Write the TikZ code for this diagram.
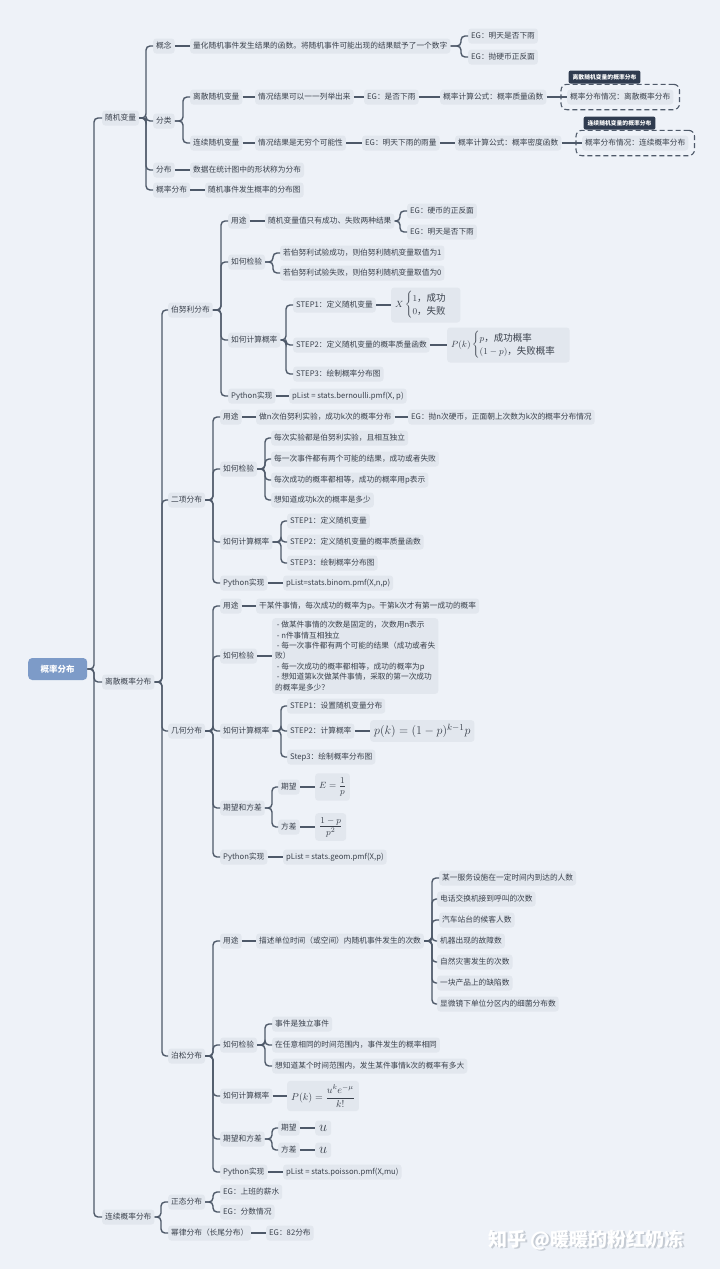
\documentclass[tikz,border=0pt]{standalone}
\usepackage{amsmath}
\usepackage{fontspec}
\setmainfont{Noto Sans CJK SC}
\usetikzlibrary{positioning,fit}

\definecolor{pagebg}{HTML}{EEF2F8}
\definecolor{leaffill}{HTML}{E2E7EE}
\definecolor{inkgray}{HTML}{3A414C}
\definecolor{linegray}{HTML}{4E5969}
\definecolor{rootblue}{HTML}{7D9BC8}
\definecolor{navy}{HTML}{2F3B4F}
\definecolor{wmshade}{HTML}{C5CBD3}

\begin{document}
\begin{tikzpicture}[x=1pt, y=-1pt,
    leaf/.style={anchor=west, fill=leaffill, rounded corners=3pt, text=inkgray,
                 inner xsep=3pt, inner ysep=2pt, minimum height=15pt,
                 font=\fontsize{7.7}{9}\selectfont},
    mathleaf/.style={leaf, inner xsep=4pt, inner ysep=4pt, font=\fontsize{9.5}{11}\selectfont},
    rootbox/.style={anchor=west, fill=rootblue, rounded corners=4pt, text=white,
                 minimum width=59pt, minimum height=22pt, font=\fontsize{8.5}{10}\selectfont\bfseries},
    tagbox/.style={anchor=south west, fill=navy, text=white, rounded corners=2pt,
                 inner xsep=4pt, inner ysep=0pt, minimum height=13pt,
                 font=\fontsize{5.8}{7}\selectfont\bfseries},
    dashframe/.style={draw=linegray, dash pattern=on 5pt off 3pt, line width=1.1pt,
                 rounded corners=6pt, inner xsep=6pt, inner ysep=5pt},
    conn/.style={draw=linegray, line width=1.4pt, rounded corners=4pt},
    wmtext/.style={anchor=west, font=\fontsize{19}{22}\selectfont\bfseries}
]
    \fill[pagebg] (0,0) rectangle (720,1269);
    \useasboundingbox (0,0) rectangle (720,1269);

    \node[rootbox] (root) at (28,669) {概率分布};
    \node[leaf] (rv) at (102,118) {随机变量};
    \node[leaf] (disc) at (102,682) {离散概率分布};
    \node[leaf] (cont) at (102,1217) {连续概率分布};

    % random variable
    \node[leaf] (rvdef) at (153,46) {概念};
    \node[leaf] (rvcls) at (153,121) {分类};
    \node[leaf] (rvdist) at (153,170) {分布};
    \node[leaf] (rvprob) at (153,190) {概率分布};
    \node[leaf] (deftext) at (190,46) {量化随机事件发生结果的函数。将随机事件可能出现的结果赋予了一个数字};
    \node[leaf] (defeg1) at (468,36) {EG：明天是否下雨};
    \node[leaf] (defeg2) at (468,57) {EG：抛硬币正反面};
    \node[leaf] (dvar) at (190,97) {离散随机变量};
    \node[leaf] (cvar) at (190,143) {连续随机变量};
    \node[leaf] (dvarcase) at (255,97) {情况结果可以一一列举出来};
    \node[leaf] (dvareg) at (364,97) {EG：是否下雨};
    \node[leaf] (dvarpmf) at (440,97) {概率计算公式：概率质量函数};
    \node[leaf] (dvarkind) at (567,97) {概率分布情况：离散概率分布};
    \node[dashframe, fit=(dvarkind)] (dvarframe) {};
    \node[tagbox] (dvartag) at ([xshift=8pt]dvarframe.north west) {离散随机变量的概率分布};
    \node[leaf] (cvarcase) at (255,143) {情况结果是无穷个可能性};
    \node[leaf] (cvareg) at (362,143) {EG：明天下雨的雨量};
    \node[leaf] (cvarpdf) at (455,143) {概率计算公式：概率密度函数};
    \node[leaf] (cvarkind) at (582,143) {概率分布情况：连续概率分布};
    \node[dashframe, fit=(cvarkind)] (cvarframe) {};
    \node[tagbox] (cvartag) at ([xshift=8pt]cvarframe.north west) {连续随机变量的概率分布};
    \node[leaf] (distdef) at (190,170) {数据在统计图中的形状称为分布};
    \node[leaf] (probdef) at (205,190) {随机事件发生概率的分布图};

    % discrete distributions
    \node[leaf] (bern) at (168,310) {伯努利分布};
    \node[leaf] (binom) at (168,500) {二项分布};
    \node[leaf] (geom) at (168,731) {几何分布};
    \node[leaf] (pois) at (168,1056) {泊松分布};

    \node[leaf] (bUse) at (228,221) {用途};
    \node[leaf] (bCheck) at (228,262) {如何检验};
    \node[leaf] (bCalc) at (228,340) {如何计算概率};
    \node[leaf] (bPy) at (228,396) {Python实现};
    \node[leaf] (bUseText) at (265,221) {随机变量值只有成功、失败两种结果};
    \node[leaf] (bUseEg1) at (407,211) {EG：硬币的正反面};
    \node[leaf] (bUseEg2) at (407,232) {EG：明天是否下雨};
    \node[leaf] (bCheck1) at (280,253) {若伯努利试验成功，则伯努利随机变量取值为1};
    \node[leaf] (bCheck2) at (280,273) {若伯努利试验失败，则伯努利随机变量取值为0};
    \node[leaf] (bStep1) at (293,305) {STEP1：定义随机变量};
    \node[mathleaf] (bStep1f) at (391,305) {$X\begin{cases}1\text{，成功}\\0\text{，失败}\end{cases}$};
    \node[leaf] (bStep2) at (293,345) {STEP2：定义随机变量的概率质量函数};
    \node[mathleaf] (bStep2f) at (447,345) {$P(k)\begin{cases}p\text{，成功概率}\\(1-p)\text{，失败概率}\end{cases}$};
    \node[leaf] (bStep3) at (293,374) {STEP3：绘制概率分布图};
    \node[leaf] (bPyCode) at (289,396) {pList = stats.bernoulli.pmf(X, p)};

    \node[leaf] (nUse) at (220,417) {用途};
    \node[leaf] (nCheck) at (220,469) {如何检验};
    \node[leaf] (nCalc) at (220,542) {如何计算概率};
    \node[leaf] (nPy) at (220,583) {Python实现};
    \node[leaf] (nUseText) at (256,417) {做n次伯努利实验，成功k次的概率分布};
    \node[leaf] (nUseEg) at (408,417) {EG：抛n次硬币，正面朝上次数为k次的概率分布情况};
    \node[leaf] (nCheck1) at (271,438) {每次实验都是伯努利实验，且相互独立};
    \node[leaf] (nCheck2) at (271,459) {每一次事件都有两个可能的结果，成功或者失败};
    \node[leaf] (nCheck3) at (271,480) {每次成功的概率都相等，成功的概率用p表示};
    \node[leaf] (nCheck4) at (271,500) {想知道成功k次的概率是多少};
    \node[leaf] (nStep1) at (287,521) {STEP1：定义随机变量};
    \node[leaf] (nStep2) at (287,542) {STEP2：定义随机变量的概率质量函数};
    \node[leaf] (nStep3) at (287,563) {STEP3：绘制概率分布图};
    \node[leaf] (nPyCode) at (283,583) {pList=stats.binom.pmf(X,n,p)};

    \node[leaf] (gUse) at (220,606) {用途};
    \node[leaf] (gCheck) at (220,656) {如何检验};
    \node[leaf] (gCalc) at (220,731) {如何计算概率};
    \node[leaf] (gMoment) at (220,808) {期望和方差};
    \node[leaf] (gPy) at (220,857) {Python实现};
    \node[leaf] (gUseText) at (256,606) {干某件事情，每次成功的概率为p。干第k次才有第一成功的概率};
    \node[leaf, align=left, inner ysep=3pt, font=\fontsize{7.7}{10.4}\selectfont] (gCheckText) at (272,656)
        {~- 做某件事情的次数是固定的，次数用n表示\\~- n件事情互相独立\\~- 每一次事件都有两个可能的结果（成功或者失\\败）\\~- 每一次成功的概率都相等，成功的概率为p\\~- 想知道第k次做某件事情，采取的第一次成功\\的概率是多少？};
    \node[leaf] (gStep1) at (287,706) {STEP1：设置随机变量分布};
    \node[leaf] (gStep2) at (287,731) {STEP2：计算概率};
    \node[mathleaf, font=\fontsize{12.5}{14}\selectfont] (gStep2f) at (370,731) {$p(k)=(1-p)^{k-1}p$};
    \node[leaf] (gStep3) at (287,757) {Step3：绘制概率分布图};
    \node[leaf] (gMean) at (278,787) {期望};
    \node[mathleaf] (gMeanf) at (315,787) {$E=\dfrac{1}{p}$};
    \node[leaf] (gVar) at (278,827) {方差};
    \node[mathleaf] (gVarf) at (315,827) {$\dfrac{1-p}{p^2}$};
    \node[leaf] (gPyCode) at (283,857) {pList = stats.geom.pmf(X,p)};

    \node[leaf] (pUse) at (220,941) {用途};
    \node[leaf] (pCheck) at (220,1045) {如何检验};
    \node[leaf] (pCalc) at (220,1096) {如何计算概率};
    \node[leaf] (pMoment) at (220,1139) {期望和方差};
    \node[leaf] (pPy) at (220,1172) {Python实现};
    \node[leaf] (pUseText) at (256,941) {描述单位时间（或空间）内随机事件发生的次数};
    \node[leaf] (pCase1) at (439,878) {某一服务设施在一定时间内到达的人数};
    \node[leaf] (pCase2) at (437,899) {电话交换机接到呼叫的次数};
    \node[leaf] (pCase3) at (439,920) {汽车站台的候客人数};
    \node[leaf] (pCase4) at (437,941) {机器出现的故障数};
    \node[leaf] (pCase5) at (437,962) {自然灾害发生的次数};
    \node[leaf] (pCase6) at (437,983) {一块产品上的缺陷数};
    \node[leaf] (pCase7) at (437,1004) {显微镜下单位分区内的细菌分布数};
    \node[leaf] (pCheck1) at (272,1024) {事件是独立事件};
    \node[leaf] (pCheck2) at (272,1045) {在任意相同的时间范围内，事件发生的概率相同};
    \node[leaf] (pCheck3) at (272,1066) {想知道某个时间范围内，发生某件事情k次的概率有多大};
    \node[mathleaf, font=\fontsize{10}{12}\selectfont] (pCalcf) at (287,1096) {$P(k)=\dfrac{u^k e^{-\mu}}{k!}$};
    \node[leaf] (pMean) at (278,1128) {期望};
    \node[mathleaf, font=\fontsize{14}{16}\selectfont] (pMeanf) at (315,1128) {$u$};
    \node[leaf] (pVar) at (278,1150) {方差};
    \node[mathleaf, font=\fontsize{14}{16}\selectfont] (pVarf) at (315,1150) {$u$};
    \node[leaf] (pPyCode) at (283,1172) {pList = stats.poisson.pmf(X,mu)};

    % continuous distributions
    \node[leaf] (normal) at (168,1202) {正态分布};
    \node[leaf] (power) at (168,1233) {幂律分布（长尾分布）};
    \node[leaf] (normEg1) at (220,1192) {EG：上班的薪水};
    \node[leaf] (normEg2) at (220,1212) {EG：分数情况};
    \node[leaf] (powerEg) at (266,1233) {EG：82分布};

    \node[wmtext, text=wmshade] (wmback) at (486.5,1241.5) {知乎 @暖暖的粉红奶冻};
    \node[wmtext, text=white] (wmfront) at (485,1240) {知乎 @暖暖的粉红奶冻};

    % branches
    \foreach \c in {rv,disc,cont}
        \draw[conn] (root.east) -| ([xshift=-8pt]\c.west) -- (\c.west);
    \foreach \c in {rvdef,rvcls,rvdist,rvprob}
        \draw[conn] (rv.east) -| ([xshift=-7pt]\c.west) -- (\c.west);
    \foreach \c in {defeg1,defeg2}
        \draw[conn] (deftext.east) -| ([xshift=-7pt]\c.west) -- (\c.west);
    \foreach \c in {dvar,cvar}
        \draw[conn] (rvcls.east) -| ([xshift=-7pt]\c.west) -- (\c.west);
    \draw[conn] (rvdef) -- (deftext);
    \draw[conn] (dvar) -- (dvarcase);
    \draw[conn] (dvarcase) -- (dvareg);
    \draw[conn] (dvareg) -- (dvarpmf);
    \draw[conn] (dvarpmf) -- (dvarkind);
    \draw[conn] (cvar) -- (cvarcase);
    \draw[conn] (cvarcase) -- (cvareg);
    \draw[conn] (cvareg) -- (cvarpdf);
    \draw[conn] (cvarpdf) -- (cvarkind);
    \draw[conn] (rvdist) -- (distdef);
    \draw[conn] (rvprob) -- (probdef);

    \foreach \c in {bern,binom,geom,pois}
        \draw[conn] (disc.east) -| ([xshift=-6pt]\c.west) -- (\c.west);

    \foreach \c in {bUse,bCheck,bCalc,bPy}
        \draw[conn] (bern.east) -| ([xshift=-7pt]\c.west) -- (\c.west);
    \draw[conn] (bUse) -- (bUseText);
    \foreach \c in {bUseEg1,bUseEg2}
        \draw[conn] (bUseText.east) -| ([xshift=-7pt]\c.west) -- (\c.west);
    \foreach \c in {bCheck1,bCheck2}
        \draw[conn] (bCheck.east) -| ([xshift=-7pt]\c.west) -- (\c.west);
    \foreach \c in {bStep1,bStep2,bStep3}
        \draw[conn] (bCalc.east) -| ([xshift=-7pt]\c.west) -- (\c.west);
    \draw[conn] (bStep1) -- (bStep1f);
    \draw[conn] (bStep2) -- (bStep2f);
    \draw[conn] (bPy) -- (bPyCode);

    \foreach \c in {nUse,nCheck,nCalc,nPy}
        \draw[conn] (binom.east) -| ([xshift=-7pt]\c.west) -- (\c.west);
    \draw[conn] (nUse) -- (nUseText);
    \draw[conn] (nUseText) -- (nUseEg);
    \foreach \c in {nCheck1,nCheck2,nCheck3,nCheck4}
        \draw[conn] (nCheck.east) -| ([xshift=-6pt]\c.west) -- (\c.west);
    \foreach \c in {nStep1,nStep2,nStep3}
        \draw[conn] (nCalc.east) -| ([xshift=-6pt]\c.west) -- (\c.west);
    \draw[conn] (nPy) -- (nPyCode);

    \foreach \c in {gUse,gCheck,gCalc,gMoment,gPy}
        \draw[conn] (geom.east) -| ([xshift=-7pt]\c.west) -- (\c.west);
    \draw[conn] (gUse) -- (gUseText);
    \draw[conn] (gCheck) -- (gCheckText);
    \foreach \c in {gStep1,gStep2,gStep3}
        \draw[conn] (gCalc.east) -| ([xshift=-6pt]\c.west) -- (\c.west);
    \draw[conn] (gStep2) -- (gStep2f);
    \foreach \c in {gMean,gVar}
        \draw[conn] (gMoment.east) -| ([xshift=-6pt]\c.west) -- (\c.west);
    \draw[conn] (gMean) -- (gMeanf);
    \draw[conn] (gVar) -- (gVarf);
    \draw[conn] (gPy) -- (gPyCode);

    \foreach \c in {pUse,pCheck,pCalc,pMoment,pPy}
        \draw[conn] (pois.east) -| ([xshift=-7pt]\c.west) -- (\c.west);
    \draw[conn] (pUse) -- (pUseText);
    \foreach \c in {pCase1,pCase2,pCase3,pCase4,pCase5,pCase6,pCase7}
        \draw[conn] (pUseText.east) -| ([xshift=-5pt]pCase2.west |- \c.west) -- (\c.west);
    \foreach \c in {pCheck1,pCheck2,pCheck3}
        \draw[conn] (pCheck.east) -| ([xshift=-7pt]\c.west) -- (\c.west);
    \draw[conn] (pCalc) -- (pCalcf);
    \foreach \c in {pMean,pVar}
        \draw[conn] (pMoment.east) -| ([xshift=-6pt]\c.west) -- (\c.west);
    \draw[conn] (pMean) -- (pMeanf);
    \draw[conn] (pVar) -- (pVarf);
    \draw[conn] (pPy) -- (pPyCode);

    \foreach \c in {normal,power}
        \draw[conn] (cont.east) -| ([xshift=-7pt]\c.west) -- (\c.west);
    \foreach \c in {normEg1,normEg2}
        \draw[conn] (normal.east) -| ([xshift=-7pt]\c.west) -- (\c.west);
    \draw[conn] (power) -- (powerEg);
\end{tikzpicture}
\end{document}
